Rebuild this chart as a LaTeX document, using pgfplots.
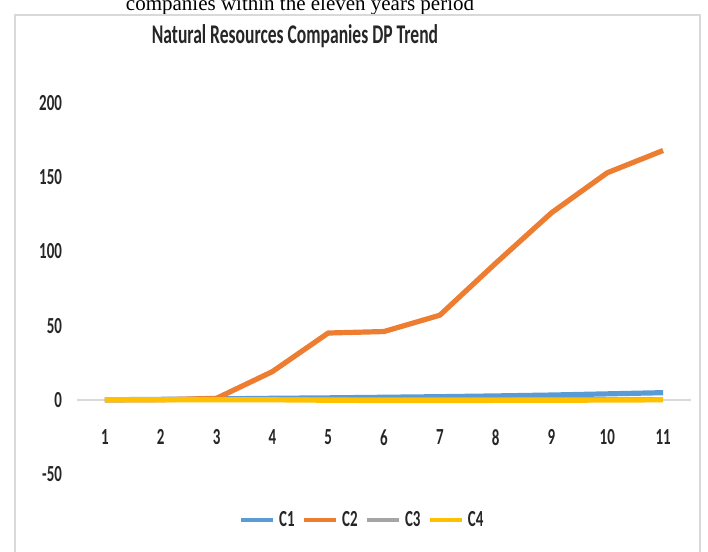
\documentclass[border=0pt]{standalone}
\usepackage{pgfplots}
\pgfplotsset{compat=1.18}
\usepackage{fontspec}
\setmainfont[FakeStretch=0.65]{Carlito}
\newfontfamily\capfont{Liberation Serif}

\definecolor{cOne}{HTML}{5B9BD5}
\definecolor{cTwo}{HTML}{ED7D31}
\definecolor{cThree}{HTML}{A5A5A5}
\definecolor{cFour}{HTML}{FFC000}
\definecolor{frameGray}{HTML}{D9D9D9}
\definecolor{txt}{HTML}{262626}

\begin{document}
\begin{tikzpicture}
\useasboundingbox (0,0) rectangle (354pt,276pt);
% caption line of the surrounding text, cut by the top edge
\begin{scope}
  \clip (0,0) rectangle (354pt,276pt);
  \node[font=\capfont\fontsize{10.5}{12}\selectfont, anchor=base, inner sep=0pt]
    at (150pt,270.5pt) {companies within the eleven years period};
\end{scope}
% chart frame
\draw[draw=frameGray, line width=0.9pt] (7.5pt,-3pt) -- (7.5pt,268.5pt) -- (350pt,268.5pt) -- (350pt,-3pt);
% chart title
\node[font=\bfseries\fontsize{13.5}{15}\selectfont, text=txt] at (147.5pt,258pt)
  {Natural Resources Companies DP Trend};

\begin{axis}[
  at={(38.5pt,39pt)}, anchor=south west,
  scale only axis, width=307pt, height=185.5pt,
  xmin=0.5, xmax=11.5, ymin=-50, ymax=200,
  axis x line=middle, axis y line=left,
  x axis line style={-, draw=frameGray, line width=0.8pt},
  y axis line style={draw=none},
  xtick={1,...,11}, ytick={-50,0,50,100,150,200},
  major tick length=0pt,
  /pgf/number format/assume math mode=true,
  tick label style={font=\bfseries\fontsize{11.5}{13}\selectfont, text=txt},
  xticklabel style={yshift=-11.5pt},
  yticklabel style={xshift=-4pt},
  legend columns=4,
  legend style={draw=none, fill=none, at={(0.466,-0.124)}, anchor=center,
    font=\bfseries\fontsize{11.5}{13}\selectfont, text=txt,
    /tikz/every even column/.append style={column sep=1.5pt}},
  legend image code/.code={\draw[#1, line width=2.2pt] (0pt,0pt) -- (16pt,0pt);},
  every axis plot/.append style={line width=2.6pt, line join=round},
  clip=false,
]
\addplot[cOne] coordinates {(1,0) (2,0.3) (3,0.6) (4,1) (5,1.3) (6,1.7) (7,2.1) (8,2.6) (9,3.2) (10,4) (11,4.8)};
\addlegendentry{C1}
\addplot[cTwo] coordinates {(1,0) (2,0) (3,1) (4,19) (5,45) (6,46) (7,57) (8,92) (9,126) (10,153) (11,168)};
\addlegendentry{C2}
\addplot[cThree] coordinates {(1,0) (2,0) (3,0) (4,0) (5,0) (6,0) (7,0) (8,0) (9,0) (10,0) (11,0)};
\addlegendentry{C3}
\addplot[cFour] coordinates {(1,0) (2,0) (3,0) (4,0) (5,-0.3) (6,-0.5) (7,-0.5) (8,-0.4) (9,-0.3) (10,-0.2) (11,0)};
\addlegendentry{C4}
\end{axis}
\end{tikzpicture}
\end{document}
